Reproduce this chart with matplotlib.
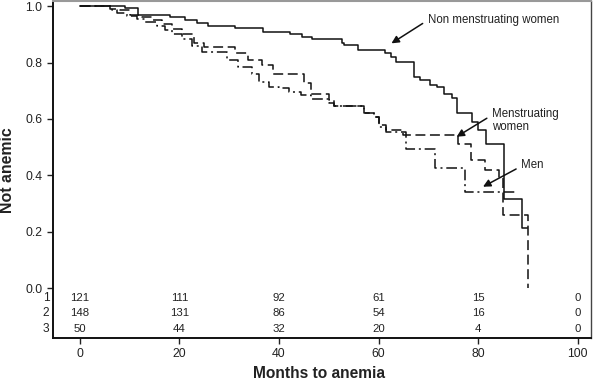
"""
Curvas de Kaplan-Meier (tempo ate anemia) por grupo, com tabela de risco
embaixo do eixo. Salva out.png (593x380).
"""
import matplotlib
matplotlib.use("Agg")
import matplotlib.pyplot as plt
import matplotlib.transforms as mtransforms

# ---- dados ----
# 1: mulheres nao menstruantes (linha cheia)
t_nonmens = [0, 9.1, 11.7, 18.1, 21.1, 23.5, 25.8, 31.2, 36.8, 42.3, 44.6, 46.6,
             52.7, 53.0, 55.9, 61.4, 62.5, 63.6, 67.2, 68.4, 70.4, 71.8, 73.1,
             74.8, 75.8, 78.8, 79.9, 81.5, 85.3, 88.9, 89.9]
s_nonmens = [1.0, 0.993, 0.968, 0.962, 0.950, 0.939, 0.929, 0.921, 0.909, 0.901,
             0.891, 0.882, 0.870, 0.862, 0.846, 0.834, 0.818, 0.802, 0.750, 0.738,
             0.720, 0.712, 0.690, 0.673, 0.620, 0.590, 0.560, 0.513, 0.318, 0.213,
             0.213]

# 2: mulheres menstruantes (tracejada)
t_mens = [0, 6.0, 8.0, 10.0, 12.5, 14.5, 16.5, 18.5, 20.5, 23.0, 25.0, 31.2,
          33.8, 36.5, 38.8, 45.0, 46.5, 50.0, 51.0, 57.0, 59.0, 60.0, 61.5, 65.0,
          75.9, 78.6, 81.3, 84.3, 85.1, 90.1]
s_mens = [1.0, 0.990, 0.985, 0.970, 0.960, 0.950, 0.935, 0.920, 0.900, 0.868,
          0.856, 0.832, 0.809, 0.790, 0.761, 0.726, 0.690, 0.667, 0.645, 0.620,
          0.606, 0.578, 0.560, 0.543, 0.513, 0.455, 0.420, 0.390, 0.259, 0.0]

# 3: homens (traco-ponto)
t_men = [0, 6.5, 7.5, 9.5, 11.5, 13.0, 15.5, 17.0, 18.5, 20.5, 22.5, 24.5, 29.6,
         31.8, 34.5, 36.0, 38.0, 40.0, 42.0, 44.5, 46.5, 50.0, 51.0, 57.0, 59.0,
         60.0, 61.5, 65.6, 71.4, 77.3, 87.9]
s_men = [1.0, 0.985, 0.975, 0.965, 0.955, 0.945, 0.930, 0.915, 0.900, 0.885,
         0.860, 0.838, 0.809, 0.785, 0.760, 0.732, 0.714, 0.708, 0.696, 0.685,
         0.670, 0.655, 0.645, 0.620, 0.606, 0.572, 0.555, 0.495, 0.425, 0.340,
         0.340]

# tabela de numero em risco
risk_times = [0, 20, 40, 60, 80, 100]
risk_rows = ["1", "2", "3"]
risk_nonmens = [121, 111, 92, 61, 15, 0]
risk_mens = [148, 131, 86, 54, 16, 0]
risk_men = [50, 44, 32, 20, 4, 0]

yticks = [0.0, 0.2, 0.4, 0.6, 0.8, 1.0]
xticks = [0, 20, 40, 60, 80, 100]

plt.rcParams["font.family"] = ["Liberation Sans", "DejaVu Sans"]

fig = plt.figure(figsize=(5.93, 3.80), dpi=100)
ax = fig.add_axes([53 / 593, 1 - 338 / 380, 538 / 593, 337 / 380])

ax.step(t_nonmens, s_nonmens, where="post", color="#111", lw=1.1)
ax.step(t_mens, s_mens, where="post", color="#111", lw=1.1, ls=(0, (6.5, 3)))
ax.step(t_men, s_men, where="post", color="#111", lw=1.1, ls=(0, (7, 2.5, 1.3, 2.5)))

ax.set_xlim(-5.42, 102.7)
ax.set_ylim(-0.176, 1.018)
ax.set_xticks(xticks)
ax.set_yticks(yticks)
ax.set_yticklabels([f"{v:.1f}" for v in yticks])
ax.tick_params(axis="both", direction="out", length=4, width=1, labelsize=8.8,
               colors="#222")
ax.tick_params(axis="x", pad=3)

for side in ("left", "bottom"):
    ax.spines[side].set_linewidth(1.4)
    ax.spines[side].set_color("#111")
ax.spines["top"].set_color("#999")
ax.spines["top"].set_linewidth(1.5)
ax.spines["right"].set_color("#444")
ax.spines["right"].set_linewidth(1.0)

# tabela de risco dentro do eixo, abaixo de 0.0
row_y = [-0.034, -0.0875, -0.144]
trans = mtransforms.blended_transform_factory(ax.transAxes, ax.transData)
for lab, yy, vals in zip(risk_rows, row_y, [risk_nonmens, risk_mens, risk_men]):
    ax.text(-0.007, yy, lab, transform=trans, ha="right", va="center",
            fontsize=8.6, color="#222")
    for t, v in zip(risk_times, vals):
        ax.text(t, yy, str(v), ha="center", va="center", fontsize=8.2, color="#222")

# rotulos dos eixos
fig.text(319 / 593, 1 - 374 / 380, "Months to anemia", ha="center", va="center",
         fontsize=11.2, fontweight="bold", color="#222")
fig.text(8 / 593, 1 - 170 / 380, "Not anemic", ha="center", va="center",
         rotation=90, fontsize=11.4, fontweight="bold", color="#222")

# anotacoes com setas
arw = dict(arrowstyle="-|>", color="#111", lw=1.1, mutation_scale=11,
           shrinkA=2, shrinkB=0)
ax.annotate("Non menstruating women", xy=(62.6, 0.868), xytext=(69.9, 0.950),
            ha="left", va="center", fontsize=8.3, color="#222",
            arrowprops=dict(arw, relpos=(0, 0.5)))
ax.annotate("Menstruating\nwomen", xy=(75.7, 0.537), xytext=(82.8, 0.594),
            ha="left", va="center", fontsize=8.3, color="#222", linespacing=1.15,
            arrowprops=dict(arw, relpos=(0, 0.72)))
ax.annotate("Men", xy=(81.0, 0.36), xytext=(88.7, 0.437),
            ha="left", va="center", fontsize=8.3, color="#222",
            arrowprops=dict(arw, relpos=(0, 0.4)))

fig.savefig("out.png", dpi=100)
